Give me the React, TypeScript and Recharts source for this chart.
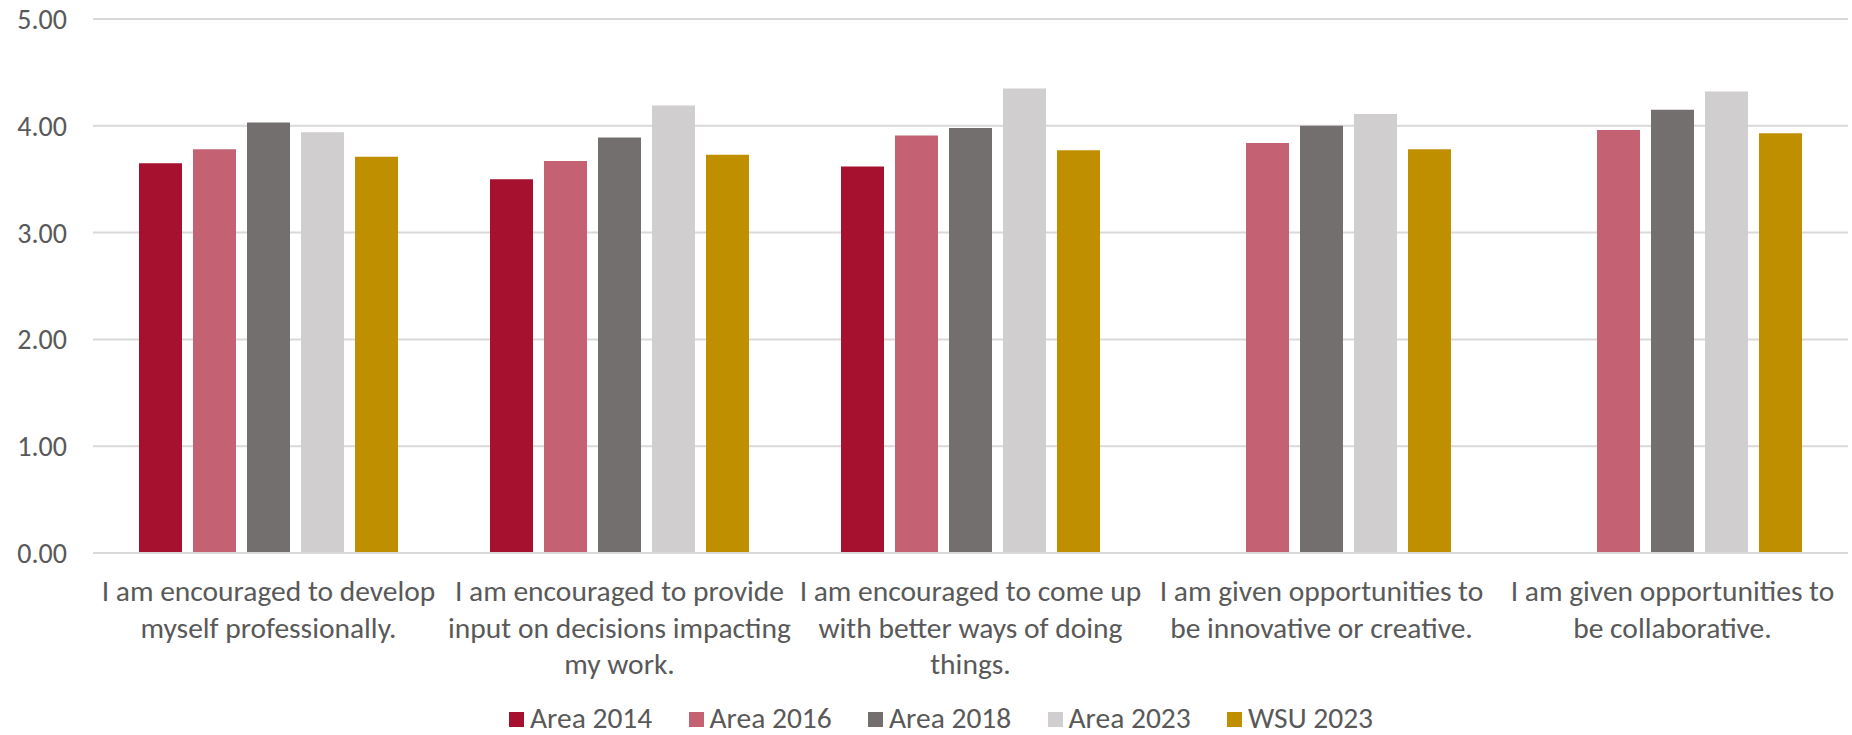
import React from 'react';
import { BarChart, Bar, XAxis, YAxis, CartesianGrid, Legend } from 'recharts';

const categories = [
  'I am encouraged to develop myself professionally.',
  'I am encouraged to provide input on decisions impacting my work.',
  'I am encouraged to come up with better ways of doing things.',
  'I am given opportunities to be innovative or creative.',
  'I am given opportunities to be collaborative.',
];

const area2014 = [3.65, 3.5, 3.62, null, null];
const area2016 = [3.78, 3.67, 3.91, 3.84, 3.96];
const area2018 = [4.03, 3.89, 3.98, 4.0, 4.15];
const area2023 = [3.94, 4.19, 4.35, 4.11, 4.32];
const wsu2023 = [3.71, 3.73, 3.77, 3.78, 3.93];

const yTicks = [0, 1, 2, 3, 4, 5];

const SERIES = [
  { key: 'a2014', name: 'Area 2014', color: '#A6112F', values: area2014 },
  { key: 'a2016', name: 'Area 2016', color: '#C46274', values: area2016 },
  { key: 'a2018', name: 'Area 2018', color: '#736F6E', values: area2018 },
  { key: 'a2023', name: 'Area 2023', color: '#D0CECF', values: area2023 },
  { key: 'wsu2023', name: 'WSU 2023', color: '#BF8F00', values: wsu2023 },
];

const data = categories.map((cat, i) => {
  const row: any = { category: cat };
  SERIES.forEach((s) => {
    row[s.key] = s.values[i];
  });
  return row;
});

const FONT = 'Carlito, Calibri, Lato, sans-serif';
const TEXT_COLOR = '#595959';
const LABEL_SIZE = 29.5;
const WRAP_WIDTH = 350;

let canvasCtx: CanvasRenderingContext2D | null = null;
const measure = (text: string) => {
  if (!canvasCtx) {
    canvasCtx = document.createElement('canvas').getContext('2d');
  }
  if (!canvasCtx) return text.length * LABEL_SIZE * 0.5;
  canvasCtx.font = `${LABEL_SIZE}px ${FONT}`;
  return canvasCtx.measureText(text).width;
};

// simple greedy word wrap
const wrapText = (text: string, maxWidth: number) => {
  const words = text.split(' ');
  const lines: string[] = [];
  let current = '';
  words.forEach((w) => {
    const next = current ? current + ' ' + w : w;
    if (current && measure(next) > maxWidth) {
      lines.push(current);
      current = w;
    } else {
      current = next;
    }
  });
  if (current) lines.push(current);
  return lines;
};

const CategoryTick = ({ x, y, payload }: any) => {
  const lines = wrapText(String(payload.value), WRAP_WIDTH);
  return (
    <text
      x={x}
      y={y}
      textAnchor="middle"
      fontSize={LABEL_SIZE}
      fontFamily={FONT}
      fill={TEXT_COLOR}
    >
      {lines.map((line, i) => (
        <tspan key={i} x={x} y={y + 40 + i * 36.5}>
          {line}
        </tspan>
      ))}
    </text>
  );
};

const LegendContent = () => (
  <div
    style={{
      height: 36,
      display: 'flex',
      alignItems: 'center',
      paddingLeft: 509,
      fontFamily: FONT,
      transform: 'translateY(2px)',
    }}
  >
    {SERIES.map((s, i) => (
      <div
        key={s.key}
        style={{ display: 'flex', alignItems: 'center', width: i < SERIES.length - 1 ? 179.5 : 'auto' }}
      >
        <span style={{ width: 15, height: 15, backgroundColor: s.color, marginRight: 6, display: 'inline-block' }}></span>
        <span style={{ fontSize: LABEL_SIZE, color: TEXT_COLOR, lineHeight: 1 }}>{s.name}</span>
      </div>
    ))}
  </div>
);

const App: React.FC = () => {
  return (
    <div style={{ position: 'absolute', left: 0, top: 0, background: '#fff' }}>
      <BarChart
        width={1852}
        height={735}
        data={data}
        margin={{ top: 19, right: 4, left: 0, bottom: 0 }}
        barCategoryGap={46}
        barGap={11}
      >
        <CartesianGrid vertical={false} stroke="#D9D9D9" strokeWidth={2} />
        <XAxis
          dataKey="category"
          height={146}
          interval={0}
          axisLine={{ stroke: '#D9D9D9', strokeWidth: 2 }}
          tickLine={false}
          tick={<CategoryTick />}
        />
        <YAxis
          width={93}
          domain={[0, 5]}
          ticks={yTicks}
          axisLine={false}
          tickLine={false}
          tickSize={0}
          tickMargin={26}
          tickFormatter={(v: number) => v.toFixed(2)}
          tick={{ fontSize: 28, fontFamily: FONT, fill: TEXT_COLOR }}
        />
        {SERIES.map((s) => (
          <Bar key={s.key} dataKey={s.key} name={s.name} fill={s.color} isAnimationActive={false} />
        ))}
        <Legend verticalAlign="bottom" content={<LegendContent />} wrapperStyle={{ left: 0, width: 1852 }} />
      </BarChart>
    </div>
  );
};

export default App;
